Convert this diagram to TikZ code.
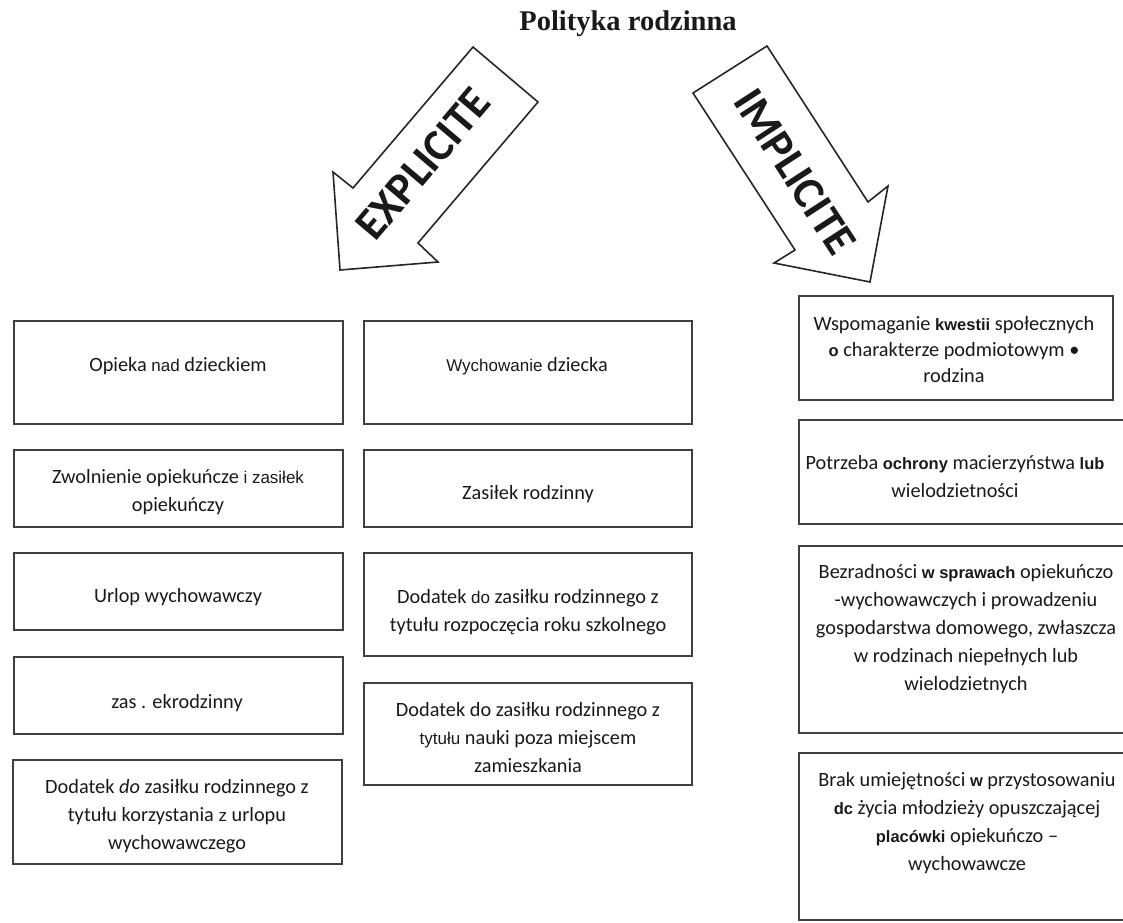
\documentclass[tikz,border=0pt]{standalone}
\usepackage{fontspec}
\setmainfont{Carlito}
\newfontfamily\arialf{Liberation Sans}
\newfontfamily\timesf{Liberation Serif}
\usetikzlibrary{fit}
\newcommand\arw[1]{{\arialf\fontsize{17}{28}\selectfont #1}}
\newcommand\arbw[1]{{\arialf\bfseries\fontsize{16.5}{28}\selectfont #1}}
\begin{document}
\begin{tikzpicture}[x=1pt,y=-1pt,
  box/.style={draw=black!75, line width=1.4pt, inner sep=0pt},
  txt/.style={align=center, inner sep=0pt, text=black!90, font=\fontsize{20.3}{28}\selectfont},
  arr/.style={draw=black!85, line width=1.6pt, fill=white, line join=miter},
  arrtxt/.style={font=\bfseries\fontsize{45}{45}\selectfont, text=black!90, inner sep=0pt}]
\useasboundingbox (0,0) rectangle (1123,922);

% title
\node[font=\timesf\bfseries\fontsize{28.5}{32}\selectfont, text=black!90] (title) at (628,24) {Polityka rodzinna};

% arrows
\draw[arr] (473,47) -- (538,102) -- (418,243) -- (438,262) -- (340,270) -- (333,172) -- (353,188) -- cycle;
\node[arrtxt, rotate=49.7] (explicite) at (423,164) {EXPLICITE};
\draw[arr] (693,93) -- (767,46) -- (868,202) -- (888,186) -- (870,282) -- (774,263) -- (795,250) -- cycle;
\node[arrtxt, rotate=-57] (implicite) at (795,172) {IMPLICITE};

% left column
\node[box, fit={(14,321) (343,424)}] (l1) {};
\node[box, fit={(14,450) (343,527)}] (l2) {};
\node[box, fit={(14,553) (343,630)}] (l3) {};
\node[box, fit={(14,657) (343,734)}] (l4) {};
\node[box, fit={(13,760) (342,864)}] (l5) {};
\node[txt] (l1t) at (178,366) {Opieka \arw{nad} dzieckiem};
\node[txt] (l2t) at (178,492) {Zwolnienie opiekuńcze \arw{i zasiłek}\\opiekuńczy};
\node[txt] (l3t) at (178,597) {Urlop wychowawczy};
\node[txt] (l4t) at (177,703) {zas . ekrodzinny};
\node[txt] (l5t) at (177,816) {Dodatek \textit{do} zasiłku rodzinnego z\\tytułu korzystania \arw{z} urlopu\\wychowawczego};

% middle column
\node[box, fit={(364,321) (692,424)}] (m1) {};
\node[box, fit={(364,450) (692,527)}] (m2) {};
\node[box, fit={(364,553) (692,656)}] (m3) {};
\node[box, fit={(364,683) (692,785)}] (m4) {};
\node[txt] (m1t) at (527,366) {\arw{Wychowanie} dziecka};
\node[txt] (m2t) at (528,494) {Zasiłek rodzinny};
\node[txt] (m3t) at (528,612) {Dodatek \arw{do} zasiłku rodzinnego z\\tytułu rozpoczęcia roku szkolnego};
\node[txt] (m4t) at (528,738) {Dodatek do zasiłku rodzinnego z\\\arw{tytułu} nauki poza miejscem\\zamieszkania};

% right column
\node[box, fit={(799,296) (1113,400)}] (r1) {};
\node[box, fit={(799,420) (1135,524)}] (r2) {};
\node[box, fit={(799,546) (1135,733)}] (r3) {};
\node[box, fit={(799,753) (1135,920)}] (r4) {};
\node[txt, font=\fontsize{20.3}{26}\selectfont] (r1t) at (954,350) {Wspomaganie \arbw{kwestii} społecznych\\\arbw{o} charakterze podmiotowym •\\rodzina};
\node[txt] (r2t) at (955,477) {Potrzeba \arbw{ochrony} macierzyństwa \arbw{lub}\\wielodzietności};
\node[txt] (r3t) at (966,629) {Bezradności \arbw{w sprawach} opiekuńczo\\-wychowawczych i prowadzeniu\\gospodarstwa domowego, zwłaszcza\\w rodzinach niepełnych lub\\wielodzietnych};
\node[txt] (r4t) at (967,823) {Brak umiejętności \arbw{w} przystosowaniu\\\arbw{dc} życia młodzieży opuszczającej\\\arbw{placówki} opiekuńczo –\\wychowawcze};
\end{tikzpicture}
\end{document}
